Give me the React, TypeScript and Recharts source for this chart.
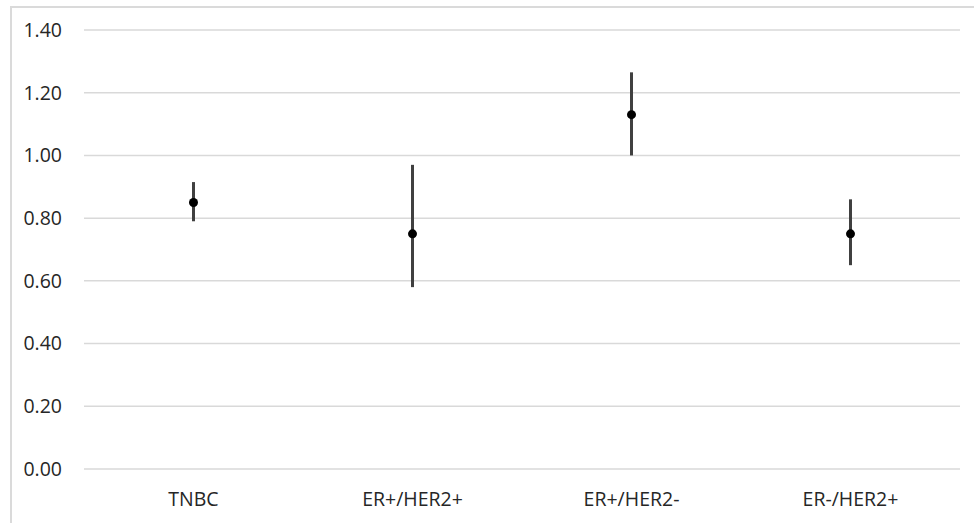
import { ComposedChart, Line, ErrorBar, XAxis, YAxis, CartesianGrid } from 'recharts'

const categories = ['TNBC', 'ER+/HER2+', 'ER+/HER2-', 'ER-/HER2+']
const means = [0.85, 0.75, 1.13, 0.75]
const lower = [0.79, 0.58, 1.0, 0.65]
const upper = [0.915, 0.97, 1.265, 0.86]
const yTicks = [0, 0.2, 0.4, 0.6, 0.8, 1.0, 1.2, 1.4]

const data = categories.map((name, i) => ({
  name,
  value: means[i],
  err: [means[i] - lower[i], upper[i] - means[i]],
}))

const FONT = '"Open Sans", sans-serif'
const TEXT = '#262626'

export default function App() {
  return (
    <div style={{ position: 'absolute', left: 0, top: 0, width: 974, height: 523, background: '#fff', overflow: 'hidden' }}>
      {/* chart frame, only top/left visible in the crop */}
      <div
        style={{
          position: 'absolute',
          left: 10,
          top: 6,
          width: 1000,
          height: 600,
          borderLeft: '2px solid #dadada',
          borderTop: '2px solid #dadada',
        }}
      />
      <div style={{ position: 'absolute', left: 0, top: 0 }}>
        <ComposedChart width={974} height={523} data={data} margin={{ top: 30, right: 14, left: 0, bottom: 0 }}>
          <CartesianGrid vertical={false} stroke="#d9d9d9" strokeWidth={1.5} />
          <XAxis
            dataKey="name"
            scale="band"
            axisLine={false}
            tickLine={false}
            height={54}
            tickMargin={17}
            tick={{ fill: TEXT, fontSize: 19.5, fontFamily: FONT }}
          />
          <YAxis
            domain={[0, 1.4]}
            ticks={yTicks}
            width={84}
            axisLine={false}
            tickLine={false}
            tickMargin={16}
            tickFormatter={(v: number) => v.toFixed(2)}
            tick={{ fill: TEXT, fontSize: 19.5, fontFamily: FONT }}
          />
          <Line
            dataKey="value"
            stroke="none"
            isAnimationActive={false}
            dot={{ r: 4.5, fill: '#000', stroke: 'none' }}
            activeDot={false}
          >
            <ErrorBar dataKey="err" width={0} stroke="#404040" strokeWidth={3} direction="y" isAnimationActive={false} />
          </Line>
        </ComposedChart>
      </div>
    </div>
  )
}
